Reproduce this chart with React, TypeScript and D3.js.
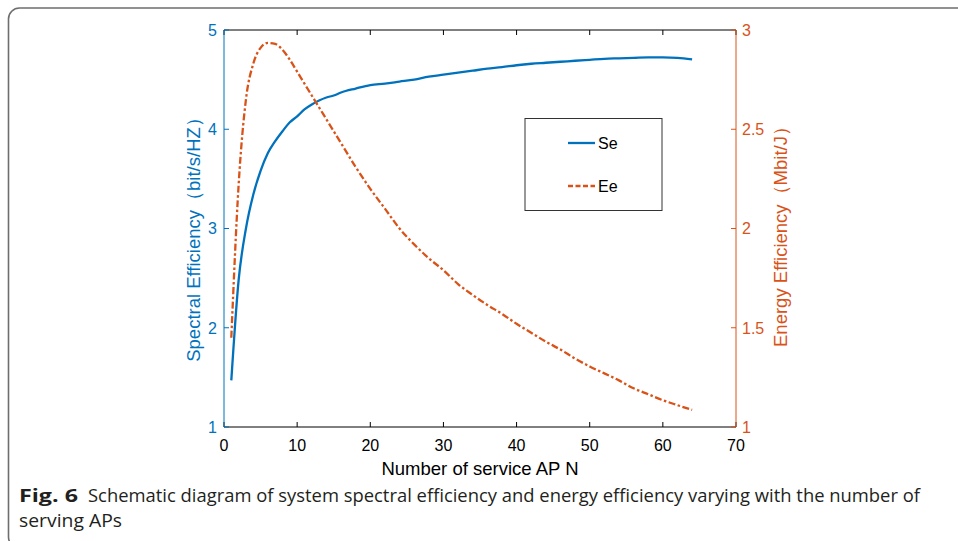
import React from "react";
import * as d3 from "d3";

const nValues = [1,2,3,4,5,6,7,8,9,10,11,12,13,14,15,16,18,20,22,24,26,28,30,32,34,36,38,40,42,44,46,48,50,52,54,56,58,60,62,64];
const seValues = [1.47,2.48,3.0,3.34,3.58,3.76,3.88,3.98,4.07,4.13,4.2,4.25,4.29,4.32,4.34,4.37,4.41,4.445,4.46,4.48,4.5,4.53,4.55,4.57,4.59,4.61,4.625,4.645,4.66,4.67,4.68,4.69,4.7,4.71,4.715,4.72,4.725,4.725,4.72,4.705];
const eeValues = [1.45,2.22,2.65,2.83,2.91,2.935,2.93,2.9,2.85,2.79,2.73,2.67,2.61,2.55,2.49,2.43,2.31,2.2,2.1,2.0,1.92,1.85,1.79,1.72,1.665,1.615,1.57,1.52,1.475,1.43,1.39,1.345,1.305,1.27,1.235,1.195,1.165,1.135,1.11,1.086];
const xTicks = [0,10,20,30,40,50,60,70];
const leftTicks = [1,2,3,4,5];
const rightTicks = [1,1.5,2,2.5,3];
const rightTickLabels = ["1","1.5","2","2.5","3"];
const seriesNames = ["Se","Ee"];

const BLUE = "#0072BD";
const ORANGE = "#D95319";
const FONT = "'Liberation Sans', Arial, Helvetica, sans-serif";
const CAP = "'Open Sans', 'Noto Sans', sans-serif";

export default function App() {
  const L = 224, R = 736, T = 30, B = 427;
  const x = d3.scaleLinear().domain([0, 70]).range([L, R]);
  const yL = d3.scaleLinear().domain([1, 5]).range([B, T]);
  const yR = d3.scaleLinear().domain([1, 3]).range([B, T]);
  const pts = nValues.map((n, i) => ({ n, se: seValues[i], ee: eeValues[i] }));
  const seLine = d3.line<any>().x(d => x(d.n)).y(d => yL(d.se)).curve(d3.curveMonotoneX);
  const eeLine = d3.line<any>().x(d => x(d.n)).y(d => yR(d.ee)).curve(d3.curveMonotoneX);
  const tl = 5;

  return (
    <svg width={958} height={541} style={{ position: "absolute", left: 0, top: 0, background: "#fff" }} fontFamily={FONT}>
      <rect x={8.5} y={8} width={980} height={540} rx={11} fill="#fff" stroke="#6e6e6e" strokeWidth={1.6} />
      {/* top & bottom axes */}
      <line x1={L} x2={R} y1={T} y2={T} stroke="#000" strokeWidth={1} />
      <line x1={L} x2={R} y1={B} y2={B} stroke="#000" strokeWidth={1} />
      {xTicks.map(t => (
        <g key={"xt" + t}>
          <line x1={x(t)} x2={x(t)} y1={B} y2={B - tl} stroke="#000" />
          <line x1={x(t)} x2={x(t)} y1={T} y2={T + tl} stroke="#000" />
          <text x={x(t)} y={451} fontSize={16} textAnchor="middle" fill="#000">{t}</text>
        </g>
      ))}
      {/* left axis */}
      <line x1={L} x2={L} y1={T} y2={B} stroke={BLUE} strokeWidth={1} />
      {leftTicks.map(t => (
        <g key={"lt" + t}>
          <line x1={L} x2={L + tl} y1={yL(t)} y2={yL(t)} stroke={BLUE} />
          <text x={217} y={yL(t)} dy="0.36em" fontSize={16} textAnchor="end" fill={BLUE}>{t}</text>
        </g>
      ))}
      {/* right axis */}
      <line x1={R} x2={R} y1={T} y2={B} stroke={ORANGE} strokeWidth={1} />
      {rightTicks.map((t, i) => (
        <g key={"rt" + t}>
          <line x1={R} x2={R - tl} y1={yR(t)} y2={yR(t)} stroke={ORANGE} />
          <text x={742} y={yR(t)} dy="0.36em" fontSize={16} textAnchor="start" fill={ORANGE}>{rightTickLabels[i]}</text>
        </g>
      ))}
      {/* lines */}
      <path d={seLine(pts) || ""} fill="none" stroke={BLUE} strokeWidth={2.3} />
      <path d={eeLine(pts) || ""} fill="none" stroke={ORANGE} strokeWidth={2.3} strokeDasharray="7,2.5,2.5,2.5" />
      {/* axis labels */}
      <text transform={`translate(199.5,235) rotate(-90)`} fontSize={18.5} textAnchor="middle" fill={BLUE}>Spectral Efficiency（bit/s/HZ）</text>
      <text transform={`translate(787,232) rotate(-90)`} fontSize={18.5} textAnchor="middle" fill={ORANGE}>Energy Efficiency（Mbit/J）</text>
      <text x={480} y={475} fontSize={18.5} textAnchor="middle" fill="#000">Number of service AP N</text>
      {/* legend */}
      <rect x={525} y={118.5} width={137} height={92} fill="#fff" stroke="#333" strokeWidth={1} />
      <line x1={568} x2={595} y1={143} y2={143} stroke={BLUE} strokeWidth={2.3} />
      <text x={598} y={143} dy="0.36em" fontSize={16} fill="#000">{seriesNames[0]}</text>
      <line x1={568} x2={595} y1={186} y2={186} stroke={ORANGE} strokeWidth={2.3} strokeDasharray="5,2.5" />
      <text x={598} y={186} dy="0.36em" fontSize={16} fill="#000">{seriesNames[1]}</text>
      {/* caption */}
      <text x={19} y={502} fontSize={18.5} fontFamily={CAP} fontWeight="bold" fill="#231f20" textLength={59} lengthAdjust="spacingAndGlyphs">Fig. 6</text>
      <text x={88} y={502} fontSize={18.5} fontFamily={CAP} fill="#231f20" textLength={832} lengthAdjust="spacingAndGlyphs">Schematic diagram of system spectral efficiency and energy efficiency varying with the number of</text>
      <text x={19} y={527} fontSize={18.5} fontFamily={CAP} fill="#231f20" textLength={103} lengthAdjust="spacingAndGlyphs">serving APs</text>
    </svg>
  );
}
